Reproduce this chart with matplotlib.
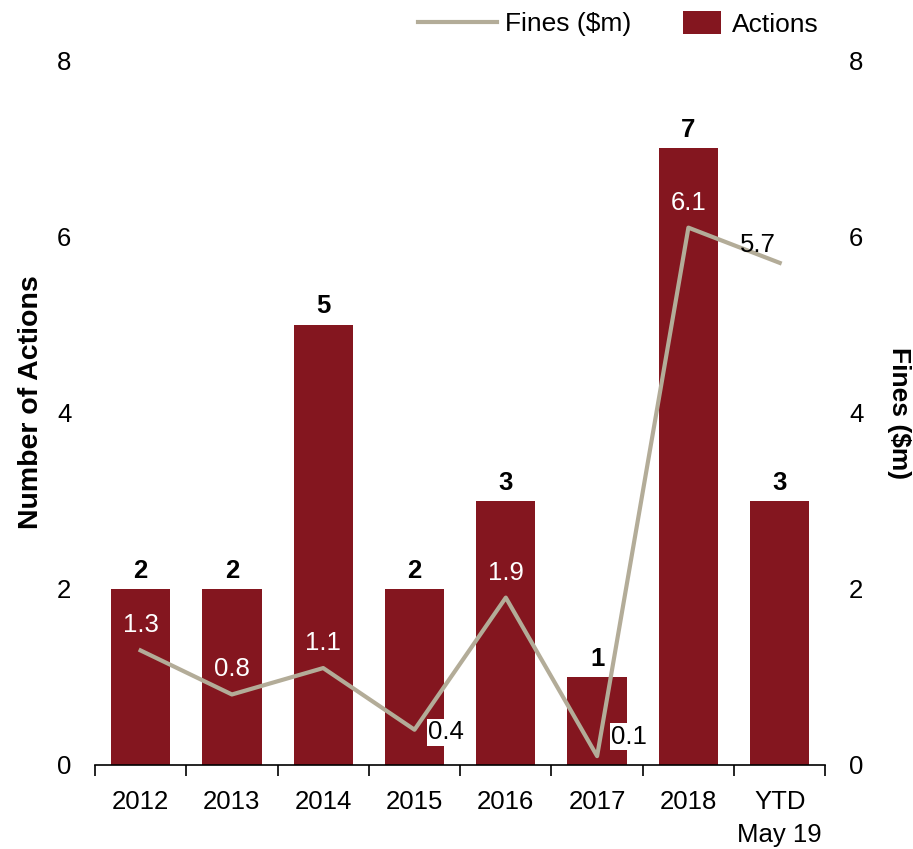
import matplotlib.pyplot as plt
import numpy as np

plt.rcParams['font.family'] = ['Liberation Sans', 'DejaVu Sans']

years = ["2012", "2013", "2014", "2015", "2016", "2017", "2018", "YTD\nMay 19"]
actions = [2, 2, 5, 2, 3, 1, 7, 3]
fines = [1.3, 0.8, 1.1, 0.4, 1.9, 0.1, 6.1, 5.7]

bar_col = "#84161f"
line_col = "#b3ac98"

fig = plt.figure(figsize=(9.13, 8.49), dpi=100)
ax = fig.add_axes([0.104, 0.099, 0.8, 0.83])
ax2 = ax.twinx()

x = np.arange(len(years))
bars = ax.bar(x, actions, width=0.65, color=bar_col, label="Actions", zorder=2)
ln, = ax2.plot(x, fines, color=line_col, lw=3, label="Fines ($m)", zorder=3)

ax.set_xlim(-0.5, 7.5)
ax.set_ylim(0, 8)
ax2.set_ylim(0, 8)
ax.set_yticks([0, 2, 4, 6, 8])
ax2.set_yticks([0, 2, 4, 6, 8])

for a in (ax, ax2):
    for s in ["top", "left", "right", "bottom"]:
        a.spines[s].set_visible(False)
ax.spines["bottom"].set_visible(True)
ax.spines["bottom"].set_linewidth(1.2)

ax.tick_params(axis="y", length=0, pad=17, labelsize=18.5)
ax2.tick_params(axis="y", length=0, pad=17, labelsize=18.5)
ax.set_xticks(x)
ax.set_xticklabels(years, fontsize=18.5, linespacing=1.5)
ax.set_xticks(np.arange(-0.5, 8, 1), minor=True)
ax.tick_params(axis="x", which="major", length=0, pad=18)
ax.tick_params(axis="x", which="minor", length=8, width=1.2, direction="out")

ax.set_ylabel("Number of Actions", fontsize=20.5, fontweight="bold", labelpad=10)
ax.yaxis.set_label_coords(-0.07, 0.515)
ax2.set_ylabel("Fines ($m)", fontsize=19, fontweight="bold", rotation=270, labelpad=34)

# bar value labels
for xi, v in zip(x, actions):
    ax.annotate(str(v), (xi, v), xytext=(0, 13), textcoords="offset points",
                ha="center", va="center", fontsize=18.5, fontweight="bold")

# line value labels
for xi, v in zip(x, fines):
    if v == 0.4:
        ax2.annotate(f"{v}", (xi, v), xytext=(10, -2), textcoords="offset points",
                     ha="left", va="center", fontsize=18.5, color="black",
                     bbox=dict(facecolor="white", edgecolor="none", pad=1), zorder=5)
    elif v == 0.1:
        ax2.annotate(f"{v}", (xi, v), xytext=(10, 14), textcoords="offset points",
                     ha="left", va="center", fontsize=18.5, color="black",
                     bbox=dict(facecolor="white", edgecolor="none", pad=1), zorder=5)
    elif v == 5.7:
        ax2.annotate(f"{v}", (xi, v), xytext=(-16, 13), textcoords="offset points",
                     ha="center", va="center", fontsize=18.5, color="black")
    else:
        ax2.annotate(f"{v}", (xi, v), xytext=(0, 18), textcoords="offset points",
                     ha="center", va="center", fontsize=18.5, color="white")

leg1 = fig.legend(handles=[ln], loc="center left", bbox_to_anchor=(0.458, 0.972),
                  frameon=False, fontsize=19, handlelength=3.0, handletextpad=0.3,
                  borderpad=0, borderaxespad=0)
leg2 = fig.legend(handles=[bars], loc="center left", bbox_to_anchor=(0.748, 0.972),
                  frameon=False, fontsize=19, handlelength=1.45, handleheight=1.0,
                  handletextpad=0.4, borderpad=0, borderaxespad=0)

fig.savefig("out.png", dpi=100)
